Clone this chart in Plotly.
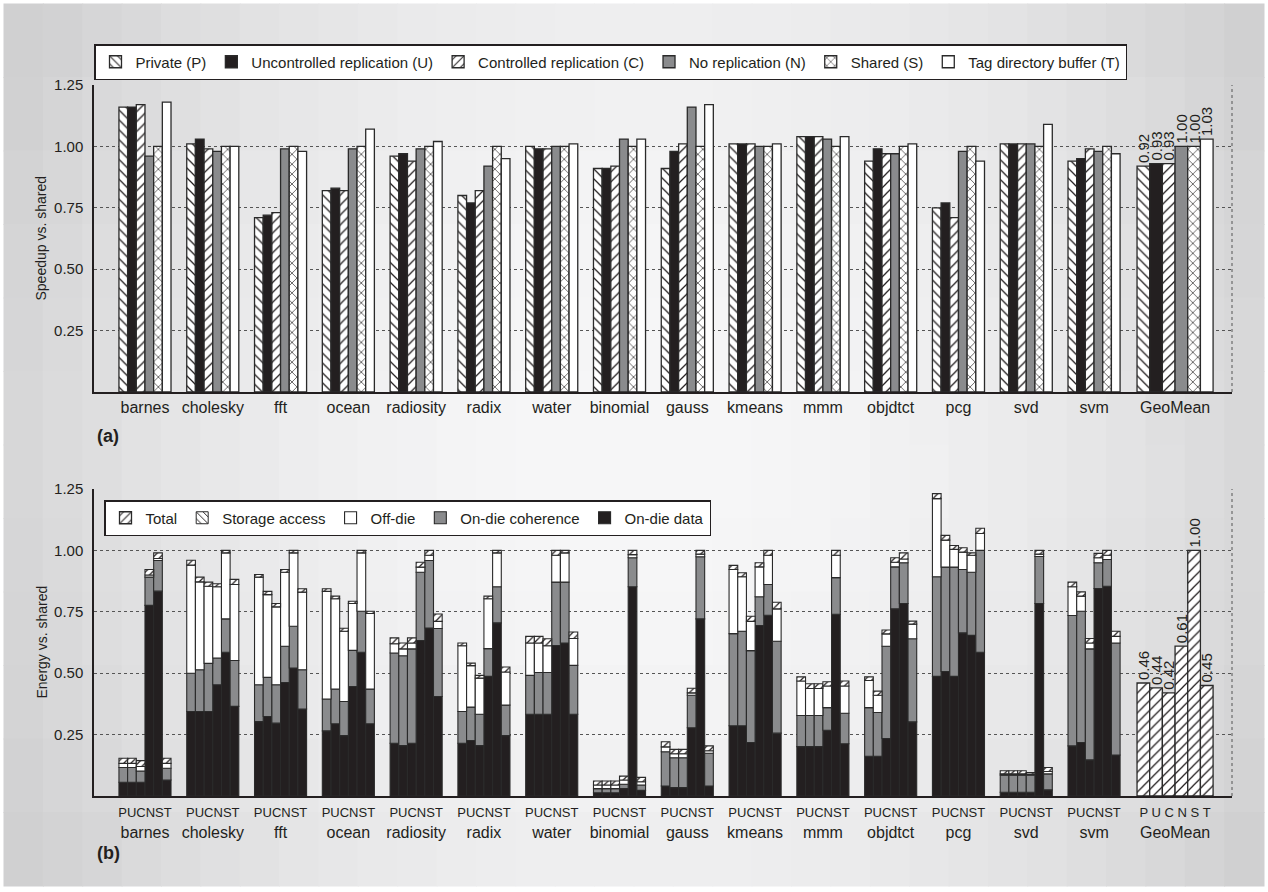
import numpy as np
import plotly.graph_objects as go

# ---------------- data ----------------
benchmarks = ["barnes", "cholesky", "fft", "ocean", "radiosity", "radix", "water",
              "binomial", "gauss", "kmeans", "mmm", "objdtct", "pcg", "svd", "svm"]
groups_a = benchmarks + ["GeoMean"]
variants = ["P", "U", "C", "N", "S", "T"]
variant_names = ["Private (P)", "Uncontrolled replication (U)", "Controlled replication (C)",
                 "No replication (N)", "Shared (S)", "Tag directory buffer (T)"]

# (a) speedup vs shared, per variant across groups_a
speed_P = [1.16, 1.01, 0.71, 0.82, 0.96, 0.80, 1.00, 0.91, 0.91, 1.01, 1.04, 0.94, 0.75, 1.01, 0.94, 0.92]
speed_U = [1.16, 1.03, 0.72, 0.83, 0.97, 0.77, 0.99, 0.91, 0.98, 1.01, 1.04, 0.99, 0.77, 1.01, 0.95, 0.93]
speed_C = [1.17, 0.99, 0.73, 0.82, 0.94, 0.82, 0.99, 0.92, 1.01, 1.01, 1.04, 0.97, 0.71, 1.01, 0.99, 0.93]
speed_N = [0.96, 0.98, 0.99, 0.99, 0.99, 0.92, 1.00, 1.03, 1.16, 1.00, 1.03, 0.97, 0.98, 1.01, 0.98, 1.00]
speed_S = [1.00, 1.00, 1.00, 1.00, 1.00, 1.00, 1.00, 1.00, 1.00, 1.00, 1.00, 1.00, 1.00, 1.00, 1.00, 1.00]
speed_T = [1.18, 1.00, 0.98, 1.07, 1.02, 0.95, 1.01, 1.03, 1.17, 1.01, 1.04, 1.01, 0.94, 1.09, 0.97, 1.03]
speedups = [speed_P, speed_U, speed_C, speed_N, speed_S, speed_T]

# (b) energy vs shared: cumulative tops of each stacked component, per benchmark [P,U,C,N,S,T]
ondie_data_top = [
    [0.056, 0.056, 0.056, 0.776, 0.834, 0.065],
    [0.344, 0.344, 0.344, 0.453, 0.585, 0.365],
    [0.303, 0.324, 0.297, 0.462, 0.521, 0.354],
    [0.265, 0.294, 0.246, 0.446, 0.585, 0.294],
    [0.215, 0.205, 0.215, 0.633, 0.684, 0.405],
    [0.215, 0.226, 0.205, 0.487, 0.705, 0.246],
    [0.333, 0.333, 0.333, 0.613, 0.623, 0.333],
    [0.013, 0.013, 0.013, 0.030, 0.852, 0.023],
    [0.041, 0.034, 0.034, 0.278, 0.721, 0.041],
    [0.286, 0.286, 0.218, 0.694, 0.736, 0.256],
    [0.201, 0.201, 0.201, 0.268, 0.740, 0.213],
    [0.162, 0.162, 0.234, 0.762, 0.784, 0.302],
    [0.487, 0.507, 0.487, 0.664, 0.654, 0.585],
    [0.015, 0.015, 0.015, 0.015, 0.784, 0.025],
    [0.204, 0.218, 0.147, 0.845, 0.854, 0.167],
]
coherence_top = [
    [0.116, 0.116, 0.102, 0.891, 0.959, 0.113],
    [0.500, 0.514, 0.540, 0.562, 0.721, 0.552],
    [0.453, 0.483, 0.453, 0.610, 0.691, 0.514],
    [0.395, 0.435, 0.385, 0.593, 0.752, 0.435],
    [0.582, 0.571, 0.599, 0.911, 0.959, 0.682],
    [0.344, 0.362, 0.333, 0.600, 0.852, 0.370],
    [0.491, 0.503, 0.503, 0.871, 0.871, 0.532],
    [0.030, 0.030, 0.030, 0.048, 0.970, 0.045],
    [0.180, 0.156, 0.156, 0.410, 0.974, 0.174],
    [0.661, 0.671, 0.592, 0.811, 0.861, 0.630],
    [0.328, 0.328, 0.328, 0.360, 0.889, 0.337],
    [0.360, 0.340, 0.610, 0.933, 0.950, 0.640],
    [0.893, 0.932, 0.932, 0.922, 0.911, 1.000],
    [0.085, 0.085, 0.085, 0.085, 0.975, 0.090],
    [0.735, 0.752, 0.599, 0.950, 0.963, 0.623],
]
offdie_top = [
    [0.133, 0.133, 0.120, 0.900, 0.967, 0.133],
    [0.940, 0.872, 0.854, 0.852, 0.990, 0.861],
    [0.891, 0.820, 0.770, 0.911, 0.990, 0.830],
    [0.833, 0.803, 0.671, 0.784, 0.990, 0.743],
    [0.620, 0.599, 0.623, 0.932, 0.980, 0.711],
    [0.612, 0.531, 0.480, 0.803, 0.990, 0.505],
    [0.623, 0.623, 0.612, 0.980, 0.990, 0.641],
    [0.045, 0.045, 0.045, 0.065, 0.983, 0.058],
    [0.200, 0.172, 0.172, 0.420, 0.985, 0.184],
    [0.922, 0.893, 0.711, 0.933, 0.980, 0.762],
    [0.468, 0.438, 0.438, 0.448, 0.980, 0.448],
    [0.470, 0.410, 0.660, 0.952, 0.965, 0.700],
    [1.211, 1.042, 1.004, 0.993, 0.980, 1.069],
    [0.090, 0.090, 0.090, 0.088, 0.985, 0.100],
    [0.852, 0.814, 0.623, 0.970, 0.980, 0.650],
]
total_top = [
    [0.154, 0.154, 0.144, 0.922, 0.990, 0.154],
    [0.960, 0.891, 0.871, 0.864, 1.000, 0.882],
    [0.902, 0.833, 0.784, 0.922, 1.000, 0.844],
    [0.844, 0.814, 0.683, 0.793, 1.000, 0.752],
    [0.644, 0.623, 0.644, 0.952, 1.000, 0.741],
    [0.623, 0.541, 0.491, 0.814, 1.000, 0.525],
    [0.650, 0.650, 0.640, 1.000, 1.000, 0.668],
    [0.061, 0.061, 0.061, 0.081, 1.000, 0.076],
    [0.221, 0.190, 0.190, 0.439, 1.000, 0.204],
    [0.939, 0.909, 0.732, 0.950, 1.000, 0.789],
    [0.485, 0.457, 0.457, 0.465, 1.000, 0.468],
    [0.485, 0.427, 0.676, 0.970, 0.990, 0.712],
    [1.231, 1.061, 1.020, 1.011, 0.990, 1.090],
    [0.103, 0.103, 0.103, 0.095, 1.000, 0.116],
    [0.871, 0.831, 0.641, 0.988, 1.000, 0.671],
]
energy_geomean = [0.46, 0.44, 0.42, 0.61, 1.00, 0.45]

yticks = [0.25, 0.50, 0.75, 1.00, 1.25]

# ---------------- styling / layout constants ----------------
BLACK = "#231f20"
GRAY = "#8a8b8d"
LINE = "#2a2a2a"
FONT = "Liberation Sans, Arial, Helvetica, sans-serif"
W, H = 1268, 892
L, R, T, B = 94, 36, 85, 96
PW, PH = W - L - R, H - T - B
TOP_A, BOT_A = 85, 392
TOP_B, BOT_B = 489, 796

def px_x(X):
    return (X - L) / PW

def px_y(Y):
    return (BOT_B - Y) / PH

geo_gap = 1.195
centers = list(range(len(benchmarks))) + [len(benchmarks) - 1 + geo_gap]
bw_norm = 0.128
bw_geo = 0.187
xrange = [-0.752, 16.035]

def bar_x(gi, j):
    w = bw_geo if gi == len(benchmarks) else bw_norm
    return centers[gi] + (j - 2.5) * w, w

patterns = ["\\", "", "/", "", "x", ""]
fills = ["white", BLACK, "white", GRAY, "white", "white"]

fig = go.Figure()

# ---------------- (a) ----------------
for j, (vn, vals) in enumerate(zip(variant_names, speedups)):
    xs, ws, texts = [], [], []
    for gi in range(len(groups_a)):
        x, w = bar_x(gi, j)
        xs.append(x); ws.append(w)
        texts.append(f"{vals[gi]:.2f}" if gi == len(benchmarks) else "")
    marker = dict(color=fills[j], line=dict(color=LINE, width=1.3))
    if patterns[j]:
        marker["pattern"] = dict(shape=patterns[j], fgcolor=BLACK, bgcolor="white",
                                 size=7, solidity=0.18, fillmode="replace")
    fig.add_trace(go.Bar(
        x=xs, y=vals, width=ws, name=vn, marker=marker,
        text=texts, textposition="outside", textangle=-90, constraintext="none",
        textfont=dict(size=15, color=BLACK, family=FONT), cliponaxis=False,
        xaxis="x", yaxis="y", legend="legend", hoverinfo="y"))

# ---------------- (b) ----------------
xs_b, ws_b = [], []
for gi in range(len(benchmarks)):
    for j in range(6):
        x, w = bar_x(gi, j)
        xs_b.append(x); ws_b.append(w)

def flat(a):
    return [v for row in a for v in row]

d_top, c_top, o_top, t_top = flat(ondie_data_top), flat(coherence_top), flat(offdie_top), flat(total_top)
zeros = [0.0] * len(d_top)

segments = [
    ("On-die data", zeros, d_top, dict(color=BLACK), 5, True),
    ("On-die coherence", d_top, c_top, dict(color=GRAY), 4, True),
    ("Off-die", c_top, o_top, dict(color="white"), 3, True),
    ("Storage access", o_top, t_top,
     dict(color="white", pattern=dict(shape="/", fgcolor=BLACK, bgcolor="white", size=5,
                                      solidity=0.25, fillmode="replace")), 2, False),
]
for name, base, top, mk, rank, show in segments:
    mk = dict(mk)
    mk["line"] = dict(color=LINE, width=1.1)
    fig.add_trace(go.Bar(
        x=xs_b, y=[t - b for t, b in zip(top, base)], base=base, width=ws_b, name=name,
        marker=mk, xaxis="x2", yaxis="y2", legend="legend2", legendrank=rank,
        showlegend=show, hoverinfo="name+y"))

# legend-only entry for storage access
fig.add_trace(go.Bar(
    x=[None], y=[None], name="Storage access",
    marker=dict(color="white", line=dict(color=LINE, width=1),
                pattern=dict(shape="\\", fgcolor=BLACK, bgcolor="white", size=6,
                             solidity=0.2, fillmode="replace")),
    xaxis="x2", yaxis="y2", legend="legend2", legendrank=2))

# GeoMean totals
gx, gw = [], []
for j in range(6):
    x, w = bar_x(len(benchmarks), j)
    gx.append(x); gw.append(w)
fig.add_trace(go.Bar(
    x=gx, y=energy_geomean, width=gw, name="Total",
    marker=dict(color="white", line=dict(color=LINE, width=1.3),
                pattern=dict(shape="/", fgcolor=BLACK, bgcolor="white", size=7,
                             solidity=0.18, fillmode="replace")),
    text=[f"{v:.2f}" for v in energy_geomean], textposition="outside", textangle=-90,
    constraintext="none", textfont=dict(size=15, color=BLACK, family=FONT),
    cliponaxis=False, xaxis="x2", yaxis="y2", legend="legend2", legendrank=1,
    hoverinfo="y"))

# ---------------- axes ----------------
dom_a = [px_y(BOT_A), px_y(TOP_A)]
dom_b = [px_y(BOT_B), px_y(TOP_B)]

tick_b = [f"<span style='font-size:13px'>PUCNST</span><br>{b}" for b in benchmarks] + \
         ["<span style='font-size:13px'>P U C N S T</span><br>GeoMean"]

common_x = dict(range=xrange, showgrid=False, zeroline=False, showline=True,
                linecolor=BLACK, linewidth=1.5, ticks="", tickvals=centers,
                tickfont=dict(size=16, color=BLACK, family=FONT), fixedrange=True)
common_y = dict(range=[0, 1.25], tickvals=yticks, ticktext=[f"{v:.2f}" for v in yticks],
                showgrid=True, gridcolor="#555555", griddash="dot", gridwidth=1,
                zeroline=False, showline=True, linecolor=BLACK, linewidth=1.5,
                ticks="", ticklabelstandoff=6,
                tickfont=dict(size=15, color=BLACK, family=FONT), fixedrange=True)

fig.update_layout(
    xaxis=dict(common_x, domain=[0, 1], anchor="y", ticktext=groups_a, ticklabelstandoff=0),
    yaxis=dict(common_y, domain=dom_a, anchor="x"),
    xaxis2=dict(common_x, domain=[0, 1], anchor="y2", ticktext=tick_b, ticklabelstandoff=0),
    yaxis2=dict(common_y, domain=dom_b, anchor="x2"),
    barmode="overlay",
    width=W, height=H,
    margin=dict(l=L, r=R, t=T, b=B, pad=0),
    paper_bgcolor="white",
    plot_bgcolor="white",
    font=dict(family=FONT, color=BLACK, size=15),
    legend=dict(orientation="h", x=px_x(94), y=px_y(44), xanchor="left", yanchor="top",
                bgcolor="white", bordercolor=BLACK, borderwidth=1.5,
                font=dict(size=15, color=BLACK, family=FONT), itemwidth=30,
                traceorder="normal"),
    legend2=dict(orientation="h", x=px_x(104), y=px_y(500), xanchor="left", yanchor="top",
                 bgcolor="white", bordercolor=BLACK, borderwidth=1.5,
                 font=dict(size=15, color=BLACK, family=FONT), itemwidth=30,
                 traceorder="normal"),
    showlegend=True,
)

# ---------------- background gradient (panel) ----------------
shapes = []
nx, ny = 32, 12
X0, X1, Y0, Y1 = 4, 1264, 4, 886
for ix in range(nx):
    for iy in range(ny):
        xa = X0 + (X1 - X0) * ix / nx
        xb = X0 + (X1 - X0) * (ix + 1) / nx
        ya = Y0 + (Y1 - Y0) * iy / ny
        yb = Y0 + (Y1 - Y0) * (iy + 1) / ny
        cx, cy = (xa + xb) / 2, (ya + yb) / 2
        r2 = ((cx - 640) / 640) ** 2 + ((cy - 450) / 820) ** 2
        g = int(max(208, min(247, 247 - 34 * r2)))
        col = f"rgb({g},{g},{g + 1})"
        shapes.append(dict(type="rect", xref="paper", yref="paper", layer="below",
                           x0=px_x(xa - 0.5), x1=px_x(xb + 0.5),
                           y0=px_y(yb + 0.5), y1=px_y(ya - 0.5),
                           fillcolor=col, line=dict(width=0)))
# dotted right edges of the plot boxes
for xr, yr in (("x", "y"), ("x2", "y2")):
    shapes.append(dict(type="line", xref=f"{xr} domain", yref=f"{yr} domain",
                       x0=1, x1=1, y0=0, y1=1,
                       line=dict(color="#555555", width=1, dash="dot")))
fig.update_layout(shapes=shapes)

# ---------------- annotations ----------------
ann = []
ann.append(dict(text="Speedup vs. shared", xref="paper", yref="paper",
                x=px_x(41), y=px_y((TOP_A + BOT_A) / 2), textangle=-90,
                showarrow=False, font=dict(size=14, color=BLACK, family=FONT),
                xanchor="center", yanchor="middle"))
ann.append(dict(text="Energy vs. shared", xref="paper", yref="paper",
                x=px_x(41), y=px_y((TOP_B + BOT_B) / 2), textangle=-90,
                showarrow=False, font=dict(size=14, color=BLACK, family=FONT),
                xanchor="center", yanchor="middle"))
ann.append(dict(text="<b>(a)</b>", xref="paper", yref="paper", x=px_x(95), y=px_y(436),
                showarrow=False, font=dict(size=18, color=BLACK, family=FONT),
                xanchor="left", yanchor="middle"))
ann.append(dict(text="<b>(b)</b>", xref="paper", yref="paper", x=px_x(95), y=px_y(853),
                showarrow=False, font=dict(size=18, color=BLACK, family=FONT),
                xanchor="left", yanchor="middle"))
fig.update_layout(annotations=ann)

fig.write_html("out.html", config={"displayModeBar": False})
